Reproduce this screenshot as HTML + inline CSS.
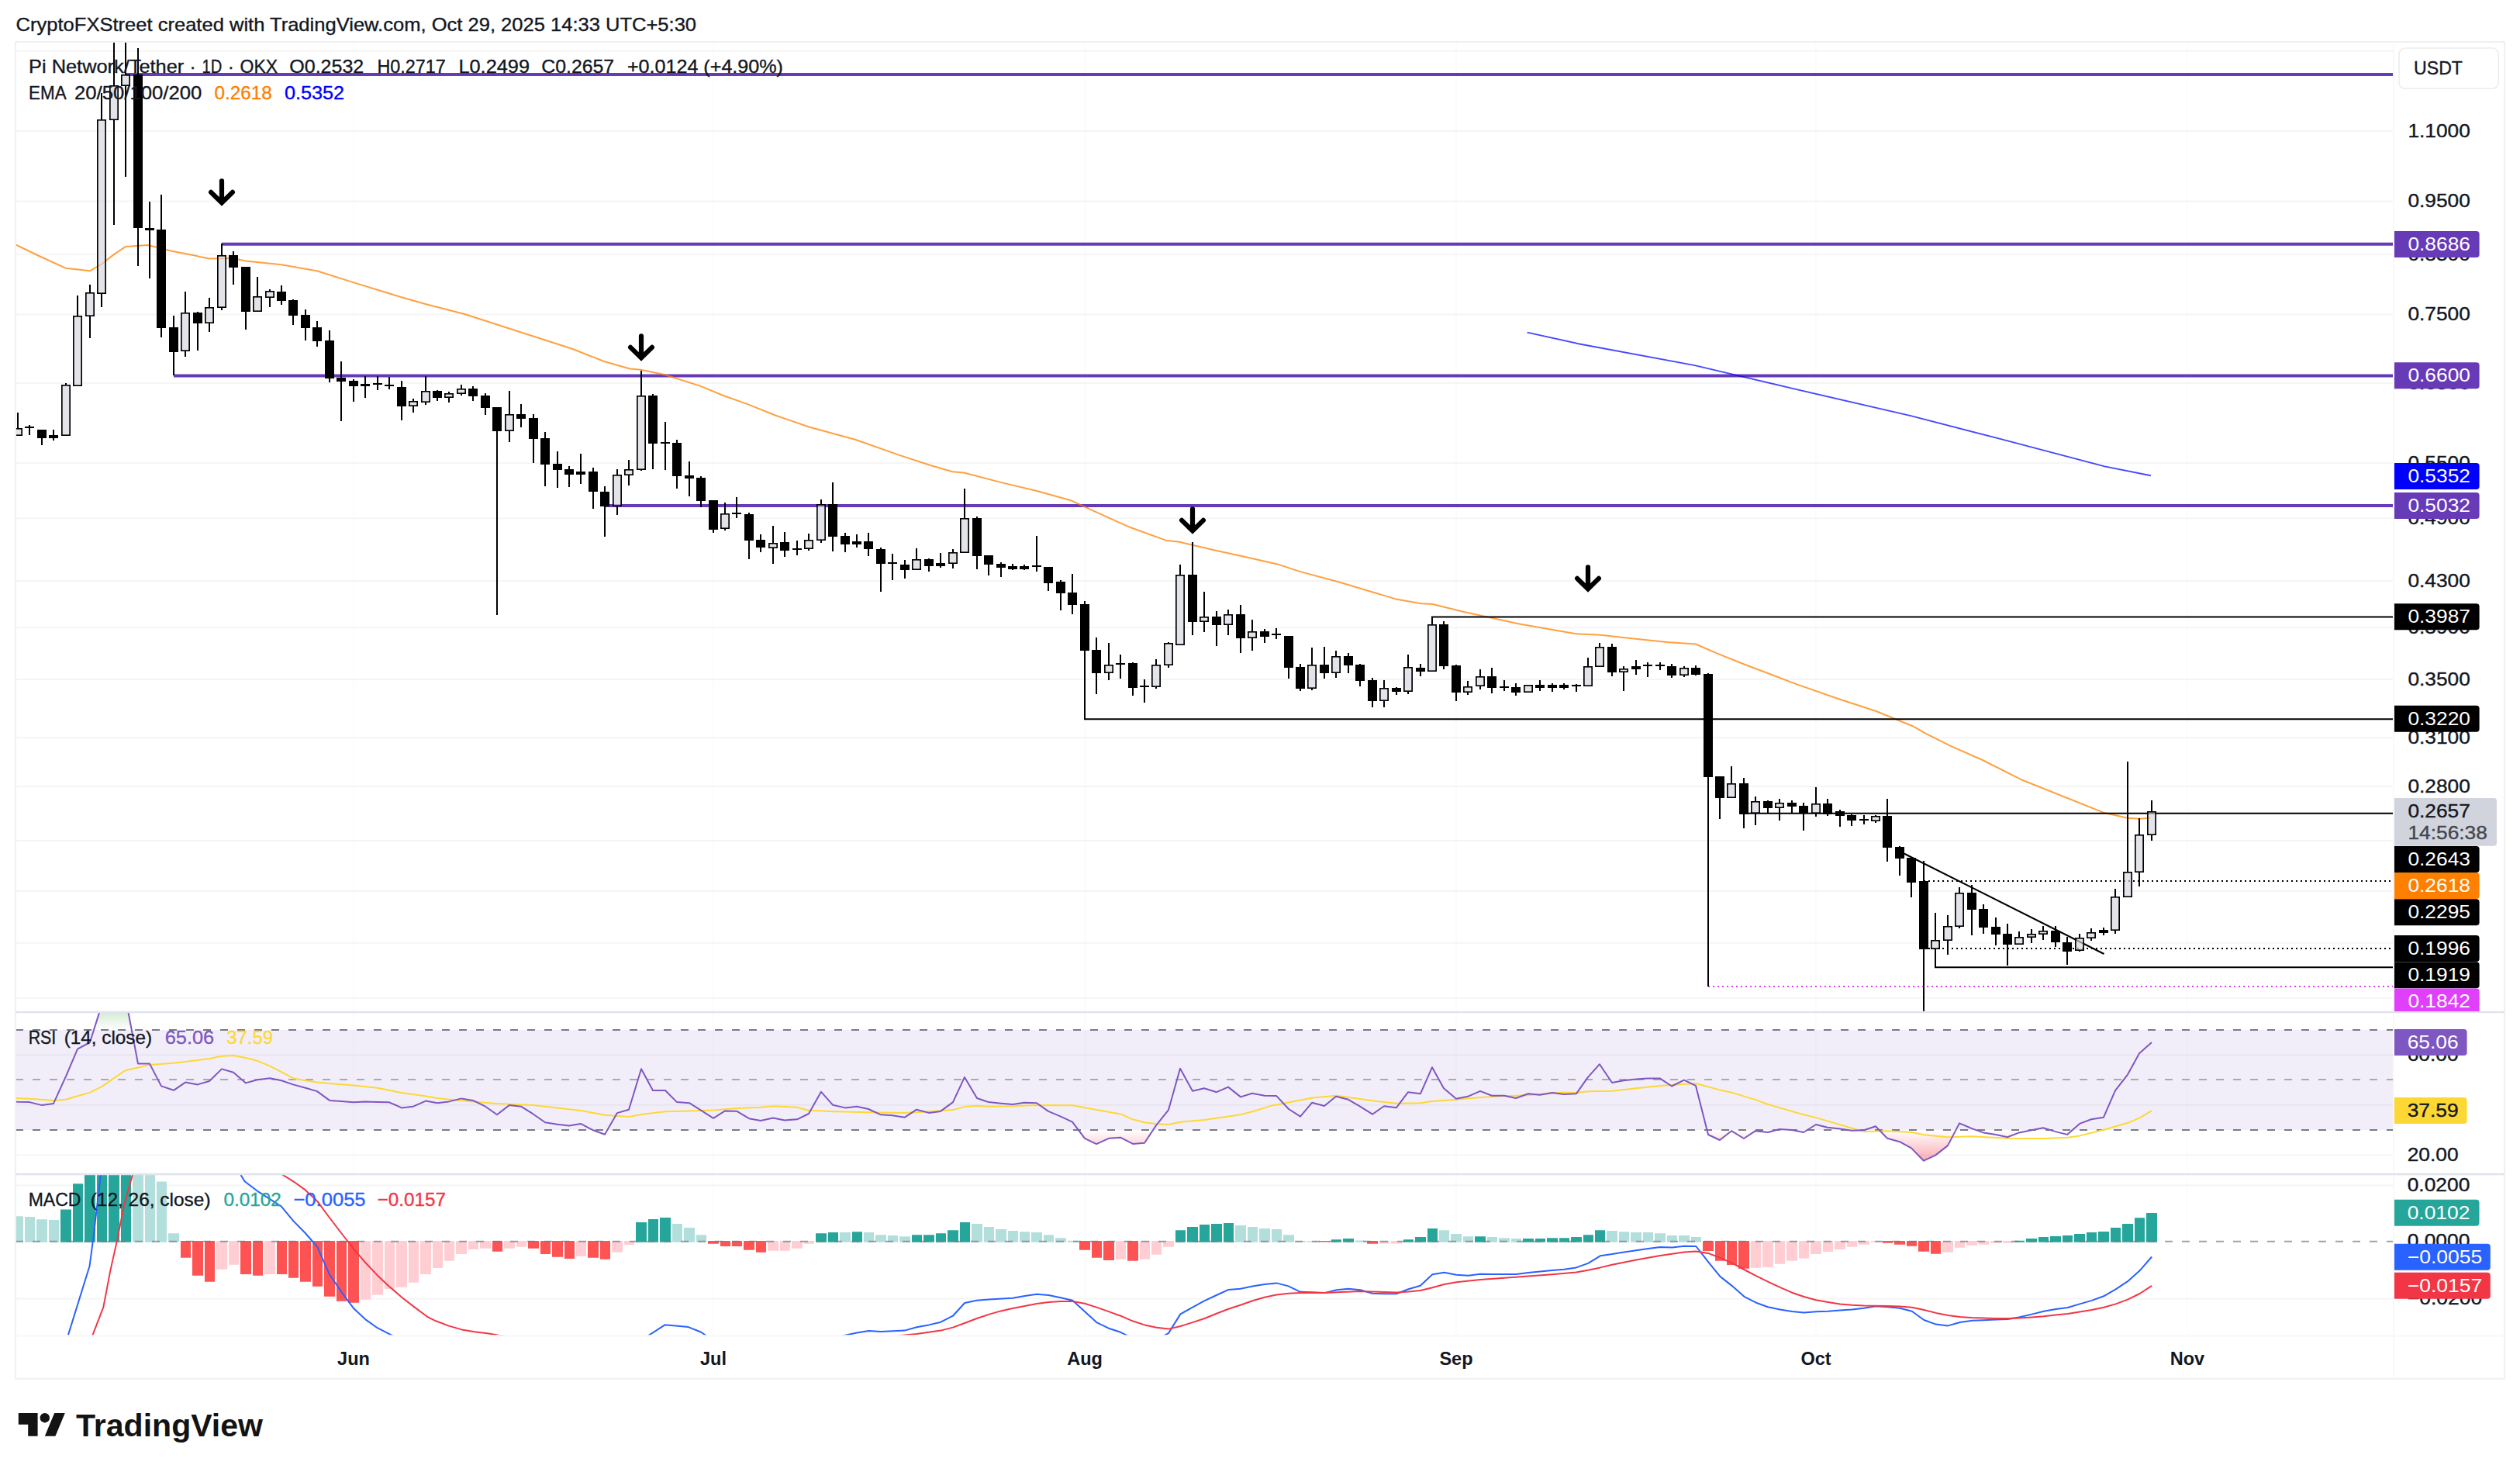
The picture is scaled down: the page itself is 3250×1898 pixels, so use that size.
<!DOCTYPE html><html><head><meta charset="utf-8"><title>Pi Network chart</title><style>html,body{margin:0;padding:0;background:#fff;overflow:hidden}svg{display:block}</style></head><body><svg width="3250" height="1898" viewBox="0 0 3250 1898" font-family="'Liberation Sans', Arial, sans-serif">
<defs>
<clipPath id="cm"><rect x="20" y="54" width="3067" height="1250"/></clipPath>
<clipPath id="cr"><rect x="20" y="1306" width="3067" height="207"/></clipPath>
<clipPath id="cd"><rect x="20" y="1515" width="3067" height="206.5"/></clipPath>
<clipPath id="ca1"><rect x="3087" y="54" width="143" height="1250"/></clipPath>
<clipPath id="ca2"><rect x="3087" y="1306" width="143" height="207"/></clipPath>
<clipPath id="ca3"><rect x="3087" y="1515" width="143" height="206.5"/></clipPath>
<linearGradient id="gg" x1="0" y1="0" x2="0" y2="1"><stop offset="0" stop-color="#4caf50" stop-opacity="0.35"/><stop offset="1" stop-color="#4caf50" stop-opacity="0"/></linearGradient>
<linearGradient id="gr" gradientUnits="userSpaceOnUse" x1="0" y1="1457" x2="0" y2="1500"><stop offset="0" stop-color="#f23645" stop-opacity="0"/><stop offset="1" stop-color="#f23645" stop-opacity="0.45"/></linearGradient>
<linearGradient id="gg2" gradientUnits="userSpaceOnUse" x1="0" y1="1328" x2="0" y2="1290"><stop offset="0" stop-color="#4caf50" stop-opacity="0"/><stop offset="1" stop-color="#4caf50" stop-opacity="0.4"/></linearGradient>
</defs>
<rect width="3250" height="1898" fill="#fff"/>
<path d="M456.0 54V1722.5M920.0 54V1722.5M1399.0 54V1722.5M1878.0 54V1722.5M2342.0 54V1722.5M2821.0 54V1722.5" stroke="#000" stroke-opacity="0.013" stroke-width="2" fill="none"/>
<path d="M20 65.8H3087M20 169.0H3087M20 259.5H3087M20 328.2H3087M20 405.5H3087M20 493.9H3087M20 597.0H3087M20 668.3H3087M20 749.0H3087M20 809.3H3087M20 876.1H3087M20 951.1H3087M20 1013.9H3087M20 1083.9H3087M20 1148.9H3087M20 1215.8H3087M20 1286.7H3087M20 1360.2H3087M20 1424.8H3087M20 1489.2H3087M20 1528.5H3087M20 1674.6H3087" stroke="#000" stroke-opacity="0.04" stroke-width="2" fill="none"/>
<rect x="20" y="1328" width="3067" height="129" fill="#7e57c2" fill-opacity="0.1"/>
<g clip-path="url(#cm)">
<path d="M162.0 96.0H3087" stroke="#673ab7" stroke-width="4"/>
<path d="M286.0 314.8H3087" stroke="#673ab7" stroke-width="4"/>
<path d="M224.0 484.4H3087" stroke="#673ab7" stroke-width="4"/>
<path d="M780.0 651.9H3087" stroke="#673ab7" stroke-width="4"/>
<path d="M20.2 315.5L52.4 331.0L84.5 345.7L116.0 349.3L131.0 340.5L146.9 328.1L162.1 317.9L190.5 316.0L208.1 320.2L221.4 323.8L238.8 326.9L270.0 333.6L286.0 333.3L301.2 333.3L316.9 336.4L362.9 341.2L409.5 349.5L452.4 363.1L517.9 383.3L547.6 391.7L600.0 405.2L738.6 450.0L779.0 466.0L812.4 475.5L826.7 476.7L857.6 483.3L902.9 497.6L931.4 509.5L964.8 521.4L1000.5 535.7L1043.3 550.5L1102.9 566.7L1160.0 586.9L1200.0 600.0L1228.6 608.3L1242.9 609.5L1290.5 621.9L1338.1 633.3L1381.0 645.2L1409.5 658.3L1457.1 679.8L1504.8 697.1L1521.4 698.8L1566.7 709.5L1600.0 716.7L1647.6 727.4L1676.2 736.9L1728.6 751.0L1800.0 772.4L1833.3 778.3L1847.6 779.0L1888.1 789.0L1959.5 804.5L2031.0 817.1L2064.3 818.8L2102.4 822.9L2150.0 827.9L2186.9 830.5L2214.3 842.4L2250.0 856.7L2316.7 882.1L2371.4 901.2L2419.0 916.7L2466.7 936.2L2483.3 945.7L2516.7 962.4L2554.8 979.0L2606.7 1005.2L2666.2 1029.0L2713.8 1048.1L2743.8 1054.8L2758.8 1055.7L2773.3 1054.8" stroke="#ff8000" stroke-opacity="0.75" stroke-width="2" fill="none" stroke-linejoin="round"/>
<path d="M1969.6 428.6L2035.7 443.2L2185.7 471.1L2242.9 484.6L2310.7 500.7L2464.3 536.1L2578.6 565.7L2714.3 601.4L2773.9 613.2" stroke="#0000ff" stroke-opacity="0.72" stroke-width="1.9" fill="none" stroke-linejoin="round"/>
<path d="M1847.0 805V795.4H3087M1399.0 900V927.2H3087M2254.0 1048.8H3087M2496.0 1240V1247.3H3087" stroke="#000" stroke-width="2" fill="none"/>
<path d="M2450.0 1097.7L2713.5 1230" stroke="#000" stroke-width="2.2" fill="none"/>
<path d="M2481.0 1136H3087M2481.0 1222.9H3087" stroke="#000" stroke-width="2" stroke-dasharray="2 4" fill="none"/>
<path d="M2203.0 1272H3087" stroke="#e040fb" stroke-width="2" stroke-dasharray="2 4" fill="none"/>
<path d="M23.0 532.0V552.5M23.0 561.5V562.0M38.0 548.0V561.0M54.0 554.0V574.0M69.0 554.0V568.0M85.0 494.0V496.5M85.0 561.5V562.0M100.0 381.0V407.5M100.0 497.5V498.0M116.0 367.0V377.5M116.0 407.5V436.0M131.0 120.0V154.5M131.0 378.5V396.0M147.0 40.0V110.5M147.0 154.5V290.0M162.0 40.0V96.5M162.0 110.5V228.0M178.0 62.0V343.0M193.0 260.0V359.0M208.0 251.0V435.0M224.0 407.0V484.0M239.0 376.0V403.5M239.0 452.5V460.0M255.0 402.0V452.0M270.0 384.0V396.5M270.0 416.5V428.0M286.0 314.0V329.5M286.0 396.5V400.0M301.0 324.0V367.0M317.0 344.0V425.0M332.0 357.0V382.5M332.0 401.5V402.0M348.0 373.0V375.5M348.0 383.5V396.0M363.0 368.0V393.0M378.0 386.0V419.0M394.0 399.0V439.0M409.0 414.0V447.0M425.0 426.0V493.0M440.0 466.0V543.0M456.0 489.0V518.0M471.0 485.0V513.0M487.0 485.0V503.0M502.0 486.0V502.0M518.0 491.0V542.0M533.0 514.0V517.5M533.0 523.5V532.0M549.0 485.0V504.5M549.0 518.5V522.0M564.0 503.0V517.0M579.0 505.0V507.5M579.0 512.5V519.0M595.0 496.0V501.5M595.0 507.5V510.0M610.0 498.0V517.0M626.0 507.0V535.0M641.0 525.0V793.0M657.0 504.0V534.5M657.0 555.5V570.0M672.0 521.0V551.0M688.0 534.0V597.0M703.0 557.0V627.0M719.0 582.0V629.0M734.0 601.0V628.0M749.0 585.0V624.0M765.0 603.0V656.0M780.0 627.0V692.0M796.0 605.0V612.5M796.0 652.5V664.0M811.0 593.0V605.5M811.0 612.5V626.0M827.0 478.0V510.5M827.0 605.5V607.0M842.0 508.0V605.0M858.0 544.0V606.0M873.0 567.0V630.0M889.0 595.0V640.0M904.0 614.0V654.0M920.0 645.0V687.0M935.0 648.0V662.5M935.0 681.5V684.0M950.0 641.0V668.0M966.0 661.0V721.0M981.0 689.0V712.0M997.0 678.0V700.5M997.0 706.5V727.0M1012.0 686.0V718.0M1028.0 697.0V716.0M1043.0 688.0V696.5M1043.0 707.5V710.0M1059.0 644.0V650.5M1059.0 696.5V700.0M1074.0 622.0V711.0M1090.0 687.0V712.0M1105.0 689.0V706.0M1120.0 687.0V717.0M1136.0 706.0V763.0M1151.0 714.0V748.0M1167.0 722.0V746.0M1182.0 707.0V721.5M1182.0 734.5V735.0M1198.0 720.0V737.0M1213.0 713.0V732.0M1229.0 708.0V712.5M1229.0 726.5V733.0M1244.0 630.0V668.5M1244.0 712.5V713.0M1260.0 666.0V734.0M1275.0 716.0V742.0M1291.0 725.0V744.0M1306.0 727.0V735.0M1321.0 728.0V735.0M1337.0 691.0V737.0M1352.0 731.0V762.0M1368.0 748.0V787.0M1383.0 740.0V792.0M1399.0 775.0V928.0M1414.0 822.0V895.0M1430.0 829.0V857.5M1430.0 867.5V877.0M1445.0 844.0V875.0M1461.0 854.0V897.0M1476.0 876.0V906.0M1491.0 850.0V857.5M1491.0 885.5V888.0M1507.0 828.0V829.5M1507.0 857.5V861.0M1522.0 728.0V741.5M1522.0 831.5V832.0M1538.0 699.0V819.0M1553.0 763.0V795.5M1553.0 801.5V815.0M1569.0 788.0V833.0M1584.0 786.0V792.5M1584.0 805.5V819.0M1600.0 780.0V842.0M1615.0 799.0V814.5M1615.0 822.5V839.0M1631.0 811.0V829.0M1646.0 810.0V824.0M1662.0 820.0V875.0M1677.0 856.0V891.0M1692.0 835.0V857.5M1692.0 887.5V890.0M1708.0 834.0V875.0M1723.0 839.0V846.5M1723.0 867.5V874.0M1739.0 842.0V868.0M1754.0 856.0V885.0M1770.0 874.0V912.0M1785.0 877.0V887.5M1785.0 903.5V912.0M1801.0 886.0V896.0M1816.0 844.0V860.5M1816.0 891.5V895.0M1832.0 856.0V872.0M1847.0 795.0V805.5M1847.0 865.5V866.0M1862.0 801.0V863.0M1878.0 857.0V904.0M1893.0 878.0V885.5M1893.0 892.5V896.0M1909.0 863.0V872.5M1909.0 884.5V889.0M1924.0 861.0V894.0M1940.0 877.0V891.0M1955.0 881.0V897.0M1971.0 883.0V883.5M1971.0 892.5V893.0M1986.0 877.0V891.0M2002.0 881.0V892.0M2017.0 881.0V889.0M2033.0 882.0V892.0M2048.0 848.0V859.5M2048.0 884.5V885.0M2063.0 829.0V834.5M2063.0 859.5V860.0M2079.0 830.0V872.0M2094.0 859.0V862.5M2094.0 866.5V891.0M2110.0 851.0V870.0M2125.0 854.0V873.0M2141.0 854.0V864.0M2156.0 856.0V874.0M2172.0 859.0V861.5M2172.0 870.5V873.0M2187.0 858.0V871.0M2203.0 868.0V1272.0M2218.0 1001.0V1056.0M2233.0 988.0V1010.5M2233.0 1028.5V1029.0M2249.0 1003.0V1068.0M2264.0 1027.0V1033.5M2264.0 1048.5V1064.0M2280.0 1032.0V1049.0M2295.0 1030.0V1035.5M2295.0 1041.5V1058.0M2311.0 1032.0V1049.0M2326.0 1035.0V1071.0M2342.0 1015.0V1036.5M2342.0 1048.5V1053.0M2357.0 1030.0V1052.0M2373.0 1044.0V1066.0M2388.0 1050.0V1065.0M2404.0 1051.0V1063.0M2419.0 1051.0V1052.5M2419.0 1058.5V1061.0M2434.0 1030.0V1111.0M2450.0 1091.0V1129.0M2465.0 1106.0V1157.0M2481.0 1110.0V1304.0M2496.0 1177.0V1212.5M2496.0 1223.5V1247.0M2512.0 1180.0V1194.5M2512.0 1212.5V1231.0M2527.0 1144.0V1151.5M2527.0 1194.5V1197.0M2543.0 1141.0V1206.0M2558.0 1166.0V1204.0M2574.0 1183.0V1219.0M2589.0 1191.0V1245.0M2604.0 1201.0V1208.5M2604.0 1217.5V1218.0M2620.0 1198.0V1204.5M2620.0 1208.5V1216.0M2635.0 1194.0V1200.5M2635.0 1204.5V1212.0M2651.0 1194.0V1221.0M2666.0 1208.0V1244.0M2682.0 1204.0V1209.5M2682.0 1225.5V1227.0M2697.0 1197.0V1202.5M2697.0 1209.5V1213.0M2713.0 1196.0V1206.0M2728.0 1146.0V1156.5M2728.0 1199.5V1204.0M2744.0 982.0V1124.5M2744.0 1156.5V1157.0M2759.0 1055.0V1076.5M2759.0 1124.5V1143.0M2775.0 1032.0V1046.5M2775.0 1076.5V1084.0" stroke="#000" stroke-width="2" fill="none"/>
<path d="M32.0 550.0h12.0v2.0h-12.0zM48.0 554.0h12.0v11.0h-12.0zM63.0 561.0h12.0v4.0h-12.0zM172.0 96.0h12.0v198.0h-12.0zM187.0 294.0h12.0v3.0h-12.0zM202.0 296.0h12.0v127.0h-12.0zM218.0 422.0h12.0v32.0h-12.0zM249.0 403.0h12.0v14.0h-12.0zM295.0 329.0h12.0v16.0h-12.0zM311.0 344.0h12.0v58.0h-12.0zM357.0 376.0h12.0v12.0h-12.0zM372.0 387.0h12.0v20.0h-12.0zM388.0 406.0h12.0v17.0h-12.0zM403.0 422.0h12.0v18.0h-12.0zM419.0 439.0h12.0v49.0h-12.0zM434.0 487.0h12.0v5.0h-12.0zM450.0 491.0h12.0v7.0h-12.0zM465.0 495.0h12.0v3.0h-12.0zM481.0 494.0h12.0v2.0h-12.0zM496.0 496.0h12.0v2.0h-12.0zM512.0 499.0h12.0v25.0h-12.0zM558.0 504.0h12.0v9.0h-12.0zM604.0 501.0h12.0v10.0h-12.0zM620.0 510.0h12.0v16.0h-12.0zM635.0 525.0h12.0v31.0h-12.0zM666.0 534.0h12.0v6.0h-12.0zM682.0 539.0h12.0v27.0h-12.0zM697.0 565.0h12.0v34.0h-12.0zM713.0 598.0h12.0v8.0h-12.0zM728.0 605.0h12.0v7.0h-12.0zM743.0 608.0h12.0v4.0h-12.0zM759.0 608.0h12.0v26.0h-12.0zM774.0 634.0h12.0v19.0h-12.0zM836.0 510.0h12.0v62.0h-12.0zM852.0 570.0h12.0v2.0h-12.0zM867.0 571.0h12.0v43.0h-12.0zM883.0 613.0h12.0v4.0h-12.0zM898.0 616.0h12.0v30.0h-12.0zM914.0 645.0h12.0v38.0h-12.0zM944.0 661.0h12.0v2.0h-12.0zM960.0 663.0h12.0v34.0h-12.0zM975.0 696.0h12.0v10.0h-12.0zM1006.0 699.0h12.0v11.0h-12.0zM1022.0 707.0h12.0v2.0h-12.0zM1068.0 650.0h12.0v42.0h-12.0zM1084.0 691.0h12.0v11.0h-12.0zM1099.0 698.0h12.0v4.0h-12.0zM1114.0 698.0h12.0v10.0h-12.0zM1130.0 708.0h12.0v19.0h-12.0zM1145.0 725.0h12.0v2.0h-12.0zM1161.0 728.0h12.0v7.0h-12.0zM1192.0 721.0h12.0v9.0h-12.0zM1207.0 726.0h12.0v4.0h-12.0zM1254.0 668.0h12.0v49.0h-12.0zM1269.0 716.0h12.0v12.0h-12.0zM1285.0 727.0h12.0v5.0h-12.0zM1300.0 730.0h12.0v4.0h-12.0zM1315.0 730.0h12.0v4.0h-12.0zM1331.0 729.0h12.0v2.0h-12.0zM1346.0 731.0h12.0v21.0h-12.0zM1362.0 750.0h12.0v15.0h-12.0zM1377.0 764.0h12.0v16.0h-12.0zM1393.0 779.0h12.0v60.0h-12.0zM1408.0 838.0h12.0v30.0h-12.0zM1439.0 855.0h12.0v2.0h-12.0zM1455.0 855.0h12.0v32.0h-12.0zM1470.0 884.0h12.0v2.0h-12.0zM1532.0 741.0h12.0v61.0h-12.0zM1563.0 795.0h12.0v11.0h-12.0zM1594.0 792.0h12.0v31.0h-12.0zM1625.0 814.0h12.0v7.0h-12.0zM1640.0 817.0h12.0v2.0h-12.0zM1656.0 820.0h12.0v41.0h-12.0zM1671.0 860.0h12.0v28.0h-12.0zM1702.0 857.0h12.0v11.0h-12.0zM1733.0 846.0h12.0v12.0h-12.0zM1748.0 857.0h12.0v21.0h-12.0zM1764.0 877.0h12.0v27.0h-12.0zM1795.0 887.0h12.0v5.0h-12.0zM1826.0 861.0h12.0v5.0h-12.0zM1856.0 805.0h12.0v54.0h-12.0zM1872.0 858.0h12.0v35.0h-12.0zM1918.0 872.0h12.0v15.0h-12.0zM1934.0 885.0h12.0v2.0h-12.0zM1949.0 886.0h12.0v7.0h-12.0zM1980.0 883.0h12.0v4.0h-12.0zM1996.0 883.0h12.0v4.0h-12.0zM2011.0 883.0h12.0v4.0h-12.0zM2027.0 883.0h12.0v2.0h-12.0zM2073.0 834.0h12.0v33.0h-12.0zM2104.0 859.0h12.0v4.0h-12.0zM2119.0 857.0h12.0v2.0h-12.0zM2135.0 857.0h12.0v2.0h-12.0zM2150.0 859.0h12.0v12.0h-12.0zM2181.0 861.0h12.0v9.0h-12.0zM2197.0 869.0h12.0v133.0h-12.0zM2212.0 1001.0h12.0v28.0h-12.0zM2243.0 1010.0h12.0v40.0h-12.0zM2274.0 1033.0h12.0v9.0h-12.0zM2305.0 1035.0h12.0v5.0h-12.0zM2320.0 1039.0h12.0v10.0h-12.0zM2351.0 1036.0h12.0v14.0h-12.0zM2367.0 1046.0h12.0v6.0h-12.0zM2382.0 1051.0h12.0v7.0h-12.0zM2398.0 1056.0h12.0v2.0h-12.0zM2428.0 1052.0h12.0v41.0h-12.0zM2444.0 1092.0h12.0v15.0h-12.0zM2459.0 1106.0h12.0v32.0h-12.0zM2475.0 1136.0h12.0v88.0h-12.0zM2537.0 1151.0h12.0v22.0h-12.0zM2552.0 1172.0h12.0v24.0h-12.0zM2568.0 1195.0h12.0v10.0h-12.0zM2583.0 1204.0h12.0v14.0h-12.0zM2645.0 1200.0h12.0v15.0h-12.0zM2660.0 1215.0h12.0v12.0h-12.0zM2707.0 1199.0h12.0v4.0h-12.0z" fill="#000"/>
<path d="M17.0 552.0h12.0v10.0h-12.0zM18.8 553.8v6.4h8.4v-6.4zM79.0 496.0h12.0v66.0h-12.0zM80.8 497.8v62.4h8.4v-62.4zM94.0 407.0h12.0v91.0h-12.0zM95.8 408.8v87.4h8.4v-87.4zM110.0 377.0h12.0v31.0h-12.0zM111.8 378.8v27.4h8.4v-27.4zM125.0 154.0h12.0v225.0h-12.0zM126.8 155.8v221.4h8.4v-221.4zM141.0 110.0h12.0v45.0h-12.0zM142.8 111.8v41.4h8.4v-41.4zM156.0 96.0h12.0v15.0h-12.0zM157.8 97.8v11.4h8.4v-11.4zM233.0 403.0h12.0v50.0h-12.0zM234.8 404.8v46.4h8.4v-46.4zM264.0 396.0h12.0v21.0h-12.0zM265.8 397.8v17.4h8.4v-17.4zM280.0 329.0h12.0v68.0h-12.0zM281.8 330.8v64.4h8.4v-64.4zM326.0 382.0h12.0v20.0h-12.0zM327.8 383.8v16.4h8.4v-16.4zM342.0 375.0h12.0v9.0h-12.0zM343.8 376.8v5.4h8.4v-5.4zM527.0 517.0h12.0v7.0h-12.0zM528.8 518.8v3.4h8.4v-3.4zM543.0 504.0h12.0v15.0h-12.0zM544.8 505.8v11.4h8.4v-11.4zM573.0 507.0h12.0v6.0h-12.0zM574.8 508.8v2.4h8.4v-2.4zM589.0 501.0h12.0v7.0h-12.0zM590.8 502.8v3.4h8.4v-3.4zM651.0 534.0h12.0v22.0h-12.0zM652.8 535.8v18.4h8.4v-18.4zM790.0 612.0h12.0v41.0h-12.0zM791.8 613.8v37.4h8.4v-37.4zM805.0 605.0h12.0v8.0h-12.0zM806.8 606.8v4.4h8.4v-4.4zM821.0 510.0h12.0v96.0h-12.0zM822.8 511.8v92.4h8.4v-92.4zM929.0 662.0h12.0v20.0h-12.0zM930.8 663.8v16.4h8.4v-16.4zM991.0 700.0h12.0v7.0h-12.0zM992.8 701.8v3.4h8.4v-3.4zM1037.0 696.0h12.0v12.0h-12.0zM1038.8 697.8v8.4h8.4v-8.4zM1053.0 650.0h12.0v47.0h-12.0zM1054.8 651.8v43.4h8.4v-43.4zM1176.0 721.0h12.0v14.0h-12.0zM1177.8 722.8v10.4h8.4v-10.4zM1223.0 712.0h12.0v15.0h-12.0zM1224.8 713.8v11.4h8.4v-11.4zM1238.0 668.0h12.0v45.0h-12.0zM1239.8 669.8v41.4h8.4v-41.4zM1424.0 857.0h12.0v11.0h-12.0zM1425.8 858.8v7.4h8.4v-7.4zM1485.0 857.0h12.0v29.0h-12.0zM1486.8 858.8v25.4h8.4v-25.4zM1501.0 829.0h12.0v29.0h-12.0zM1502.8 830.8v25.4h8.4v-25.4zM1516.0 741.0h12.0v91.0h-12.0zM1517.8 742.8v87.4h8.4v-87.4zM1547.0 795.0h12.0v7.0h-12.0zM1548.8 796.8v3.4h8.4v-3.4zM1578.0 792.0h12.0v14.0h-12.0zM1579.8 793.8v10.4h8.4v-10.4zM1609.0 814.0h12.0v9.0h-12.0zM1610.8 815.8v5.4h8.4v-5.4zM1686.0 857.0h12.0v31.0h-12.0zM1687.8 858.8v27.4h8.4v-27.4zM1717.0 846.0h12.0v22.0h-12.0zM1718.8 847.8v18.4h8.4v-18.4zM1779.0 887.0h12.0v17.0h-12.0zM1780.8 888.8v13.4h8.4v-13.4zM1810.0 860.0h12.0v32.0h-12.0zM1811.8 861.8v28.4h8.4v-28.4zM1841.0 805.0h12.0v61.0h-12.0zM1842.8 806.8v57.4h8.4v-57.4zM1887.0 885.0h12.0v8.0h-12.0zM1888.8 886.8v4.4h8.4v-4.4zM1903.0 872.0h12.0v13.0h-12.0zM1904.8 873.8v9.4h8.4v-9.4zM1965.0 883.0h12.0v10.0h-12.0zM1966.8 884.8v6.4h8.4v-6.4zM2042.0 859.0h12.0v26.0h-12.0zM2043.8 860.8v22.4h8.4v-22.4zM2057.0 834.0h12.0v26.0h-12.0zM2058.8 835.8v22.4h8.4v-22.4zM2088.0 862.0h12.0v5.0h-12.0zM2089.8 863.8v1.4h8.4v-1.4zM2166.0 861.0h12.0v10.0h-12.0zM2167.8 862.8v6.4h8.4v-6.4zM2227.0 1010.0h12.0v19.0h-12.0zM2228.8 1011.8v15.4h8.4v-15.4zM2258.0 1033.0h12.0v16.0h-12.0zM2259.8 1034.8v12.4h8.4v-12.4zM2289.0 1035.0h12.0v7.0h-12.0zM2290.8 1036.8v3.4h8.4v-3.4zM2336.0 1036.0h12.0v13.0h-12.0zM2337.8 1037.8v9.4h8.4v-9.4zM2413.0 1052.0h12.0v7.0h-12.0zM2414.8 1053.8v3.4h8.4v-3.4zM2490.0 1212.0h12.0v12.0h-12.0zM2491.8 1213.8v8.4h8.4v-8.4zM2506.0 1194.0h12.0v19.0h-12.0zM2507.8 1195.8v15.4h8.4v-15.4zM2521.0 1151.0h12.0v44.0h-12.0zM2522.8 1152.8v40.4h8.4v-40.4zM2598.0 1208.0h12.0v10.0h-12.0zM2599.8 1209.8v6.4h8.4v-6.4zM2614.0 1204.0h12.0v5.0h-12.0zM2615.8 1205.8v1.4h8.4v-1.4zM2629.0 1200.0h12.0v5.0h-12.0zM2630.8 1201.8v1.4h8.4v-1.4zM2676.0 1209.0h12.0v17.0h-12.0zM2677.8 1210.8v13.4h8.4v-13.4zM2691.0 1202.0h12.0v8.0h-12.0zM2692.8 1203.8v4.4h8.4v-4.4zM2722.0 1156.0h12.0v44.0h-12.0zM2723.8 1157.8v40.4h8.4v-40.4zM2738.0 1124.0h12.0v33.0h-12.0zM2739.8 1125.8v29.4h8.4v-29.4zM2753.0 1076.0h12.0v49.0h-12.0zM2754.8 1077.8v45.4h8.4v-45.4zM2769.0 1046.0h12.0v31.0h-12.0zM2770.8 1047.8v27.4h8.4v-27.4z" fill="#000" fill-rule="evenodd"/>
<path d="M18.8 553.8h8.4v6.4h-8.4zM80.8 497.8h8.4v62.4h-8.4zM95.8 408.8h8.4v87.4h-8.4zM111.8 378.8h8.4v27.4h-8.4zM126.8 155.8h8.4v221.4h-8.4zM142.8 111.8h8.4v41.4h-8.4zM157.8 97.8h8.4v11.4h-8.4zM234.8 404.8h8.4v46.4h-8.4zM265.8 397.8h8.4v17.4h-8.4zM281.8 330.8h8.4v64.4h-8.4zM327.8 383.8h8.4v16.4h-8.4zM343.8 376.8h8.4v5.4h-8.4zM528.8 518.8h8.4v3.4h-8.4zM544.8 505.8h8.4v11.4h-8.4zM574.8 508.8h8.4v2.4h-8.4zM590.8 502.8h8.4v3.4h-8.4zM652.8 535.8h8.4v18.4h-8.4zM791.8 613.8h8.4v37.4h-8.4zM806.8 606.8h8.4v4.4h-8.4zM822.8 511.8h8.4v92.4h-8.4zM930.8 663.8h8.4v16.4h-8.4zM992.8 701.8h8.4v3.4h-8.4zM1038.8 697.8h8.4v8.4h-8.4zM1054.8 651.8h8.4v43.4h-8.4zM1177.8 722.8h8.4v10.4h-8.4zM1224.8 713.8h8.4v11.4h-8.4zM1239.8 669.8h8.4v41.4h-8.4zM1425.8 858.8h8.4v7.4h-8.4zM1486.8 858.8h8.4v25.4h-8.4zM1502.8 830.8h8.4v25.4h-8.4zM1517.8 742.8h8.4v87.4h-8.4zM1548.8 796.8h8.4v3.4h-8.4zM1579.8 793.8h8.4v10.4h-8.4zM1610.8 815.8h8.4v5.4h-8.4zM1687.8 858.8h8.4v27.4h-8.4zM1718.8 847.8h8.4v18.4h-8.4zM1780.8 888.8h8.4v13.4h-8.4zM1811.8 861.8h8.4v28.4h-8.4zM1842.8 806.8h8.4v57.4h-8.4zM1888.8 886.8h8.4v4.4h-8.4zM1904.8 873.8h8.4v9.4h-8.4zM1966.8 884.8h8.4v6.4h-8.4zM2043.8 860.8h8.4v22.4h-8.4zM2058.8 835.8h8.4v22.4h-8.4zM2089.8 863.8h8.4v1.4h-8.4zM2167.8 862.8h8.4v6.4h-8.4zM2228.8 1011.8h8.4v15.4h-8.4zM2259.8 1034.8h8.4v12.4h-8.4zM2290.8 1036.8h8.4v3.4h-8.4zM2337.8 1037.8h8.4v9.4h-8.4zM2414.8 1053.8h8.4v3.4h-8.4zM2491.8 1213.8h8.4v8.4h-8.4zM2507.8 1195.8h8.4v15.4h-8.4zM2522.8 1152.8h8.4v40.4h-8.4zM2599.8 1209.8h8.4v6.4h-8.4zM2615.8 1205.8h8.4v1.4h-8.4zM2630.8 1201.8h8.4v1.4h-8.4zM2677.8 1210.8h8.4v13.4h-8.4zM2692.8 1203.8h8.4v4.4h-8.4zM2723.8 1157.8h8.4v40.4h-8.4zM2739.8 1125.8h8.4v29.4h-8.4zM2754.8 1077.8h8.4v45.4h-8.4zM2770.8 1047.8h8.4v27.4h-8.4z" fill="#d4d6de" fill-opacity="0.66"/>
<path d="M286 233.3V259.8M272.1 247.9L286 261.4L299.9 247.9" stroke="#000" stroke-width="6.2" fill="none" stroke-linecap="round" stroke-linejoin="miter"/>
<path d="M827 433.3V459.8M813.1 447.9L827 461.4L840.9 447.9" stroke="#000" stroke-width="6.2" fill="none" stroke-linecap="round" stroke-linejoin="miter"/>
<path d="M1538 656.3V682.8M1524.1 670.9L1538 684.4L1551.9 670.9" stroke="#000" stroke-width="6.2" fill="none" stroke-linecap="round" stroke-linejoin="miter"/>
<path d="M2048 731.3V757.8M2034.1 745.9L2048 759.4L2061.9 745.9" stroke="#000" stroke-width="6.2" fill="none" stroke-linecap="round" stroke-linejoin="miter"/>
</g>
<g clip-path="url(#cr)">
<path d="M20 1328H3087M20 1457H3087" stroke="#787b86" stroke-width="2.2" stroke-dasharray="10 12" fill="none"/>
<path d="M20 1392H3087" stroke="#787b86" stroke-opacity="0.6" stroke-width="2.2" stroke-dasharray="10 12" fill="none"/>
<path d="M121.0 1328.0L131.0 1296.2L147.0 1280.0L162.0 1286.7L169.8 1328.0z" fill="url(#gg2)"/>
<path d="M764.4 1457.0L765.0 1457.3L780.0 1462.7L783.3 1457.0z" fill="url(#gr)"/>
<path d="M1390.8 1457.0L1399.0 1467.8L1414.0 1475.1L1430.0 1467.8L1445.0 1466.7L1461.0 1474.9L1476.0 1473.8L1487.1 1457.0z" fill="url(#gr)"/>
<path d="M2201.5 1457.0L2203.0 1463.0L2218.0 1470.0L2233.0 1458.2L2249.0 1468.0L2264.0 1458.2L2280.0 1460.0L2291.2 1457.0z" fill="url(#gr)"/>
<path d="M2309.4 1457.0L2311.0 1457.1L2326.0 1460.0L2330.8 1457.0z" fill="url(#gr)"/>
<path d="M2382.7 1457.0L2388.0 1457.8L2404.0 1457.3L2405.0 1457.0z" fill="url(#gr)"/>
<path d="M2423.6 1457.0L2434.0 1467.8L2450.0 1472.2L2465.0 1480.4L2481.0 1496.7L2496.0 1489.6L2512.0 1477.1L2522.5 1457.0z" fill="url(#gr)"/>
<path d="M2548.3 1457.0L2558.0 1460.4L2574.0 1462.9L2589.0 1466.2L2604.0 1460.4L2620.0 1457.3L2621.6 1457.0z" fill="url(#gr)"/>
<path d="M2644.1 1457.0L2651.0 1459.1L2666.0 1462.9L2672.7 1457.0z" fill="url(#gr)"/>
<path d="M20.4 1416.0L38.2 1416.7L69.1 1418.9L84.7 1417.8L100.0 1413.3L115.6 1408.9L131.1 1401.1L146.4 1390.7L162.0 1380.0L177.3 1376.7L192.9 1372.9L223.8 1370.7L254.7 1367.1L270.2 1364.9L285.6 1361.8L301.1 1360.9L316.7 1364.0L332.0 1367.8L347.6 1374.4L362.9 1382.2L378.4 1390.4L393.8 1393.3L409.3 1395.6L424.9 1396.9L455.8 1399.6L486.7 1402.7L517.6 1408.9L548.4 1413.3L564.0 1416.0L594.7 1419.3L641.1 1422.9L687.6 1424.9L718.4 1428.4L749.3 1432.0L780.4 1437.8L811.3 1440.0L826.7 1436.9L857.8 1433.3L888.9 1432.4L919.6 1431.6L951.1 1428.9L981.3 1427.8L996.9 1426.2L1027.8 1427.8L1043.3 1432.0L1058.7 1432.2L1074.2 1433.3L1080.0 1433.3L1120.4 1434.2L1166.9 1434.9L1197.8 1433.3L1228.9 1431.1L1244.2 1427.1L1259.8 1425.8L1275.1 1426.7L1306.0 1426.2L1337.1 1425.1L1383.3 1425.3L1414.2 1431.1L1445.3 1436.4L1460.7 1443.3L1476.2 1447.3L1491.6 1449.3L1507.1 1450.0L1522.4 1446.7L1553.6 1444.0L1584.4 1439.6L1599.8 1437.3L1615.3 1433.3L1640.0 1425.6L1646.2 1424.4L1692.7 1415.6L1723.6 1412.7L1770.0 1419.3L1800.9 1422.7L1831.8 1422.2L1847.3 1420.0L1878.2 1417.8L1909.1 1414.9L1940.0 1413.3L1970.9 1412.2L2001.8 1409.3L2017.3 1408.4L2032.9 1408.9L2048.2 1407.3L2079.1 1406.7L2110.0 1403.3L2141.1 1400.0L2172.0 1397.8L2188.2 1397.2L2218.1 1405.4L2234.6 1409.1L2264.5 1418.1L2279.4 1423.8L2324.3 1436.8L2342.2 1441.1L2395.6 1456.7L2404.4 1458.9L2433.3 1458.2L2465.6 1460.0L2481.1 1463.3L2512.2 1466.2L2543.3 1465.3L2589.6 1467.8L2635.6 1468.0L2666.7 1466.7L2682.2 1464.4L2713.3 1456.7L2744.4 1447.8L2760.0 1441.1L2775.0 1432.2" stroke="#fdd835" stroke-width="2" fill="none" stroke-linejoin="round"/>
<path d="M18.0 1420.4L23.0 1420.7L38.0 1421.1L54.0 1425.1L69.0 1422.9L85.0 1387.8L100.0 1352.7L116.0 1344.0L131.0 1296.2L147.0 1280.0L162.0 1286.7L178.0 1371.6L193.0 1371.6L208.0 1400.4L224.0 1405.8L239.0 1395.6L255.0 1398.4L270.0 1394.0L286.0 1378.4L301.0 1382.7L317.0 1396.4L332.0 1392.2L348.0 1390.2L363.0 1393.3L378.0 1398.4L394.0 1402.7L409.0 1407.1L425.0 1418.9L440.0 1420.0L456.0 1421.3L471.0 1420.4L487.0 1420.9L502.0 1421.3L518.0 1428.4L533.0 1426.7L549.0 1419.6L564.0 1422.2L579.0 1420.4L595.0 1416.4L610.0 1418.9L626.0 1426.7L641.0 1437.3L657.0 1424.9L672.0 1426.7L688.0 1436.7L703.0 1447.3L719.0 1449.8L734.0 1451.6L749.0 1448.9L765.0 1457.3L780.0 1462.7L796.0 1435.1L811.0 1430.7L827.0 1378.2L842.0 1406.0L858.0 1406.0L873.0 1421.1L889.0 1422.2L904.0 1431.6L920.0 1441.8L935.0 1432.4L950.0 1432.7L966.0 1442.2L981.0 1445.1L997.0 1441.6L1012.0 1444.4L1028.0 1443.3L1043.0 1436.0L1059.0 1407.8L1074.0 1424.7L1090.0 1428.4L1105.0 1426.7L1120.0 1430.0L1136.0 1437.3L1151.0 1438.2L1167.0 1440.7L1182.0 1430.7L1198.0 1434.9L1213.0 1432.9L1229.0 1421.1L1244.0 1388.9L1260.0 1416.0L1275.0 1421.1L1291.0 1422.7L1306.0 1424.0L1321.0 1421.8L1337.0 1422.2L1352.0 1432.9L1368.0 1439.6L1383.0 1446.7L1399.0 1467.8L1414.0 1475.1L1430.0 1467.8L1445.0 1466.7L1461.0 1474.9L1476.0 1473.8L1491.0 1451.1L1507.0 1431.1L1522.0 1377.8L1538.0 1406.7L1553.0 1403.3L1569.0 1408.2L1584.0 1401.6L1600.0 1414.4L1615.0 1409.8L1631.0 1412.7L1646.0 1412.9L1662.0 1430.0L1677.0 1439.6L1692.0 1421.8L1708.0 1426.0L1723.0 1413.8L1739.0 1417.8L1754.0 1426.7L1770.0 1436.7L1785.0 1426.2L1801.0 1428.2L1816.0 1408.2L1832.0 1410.2L1847.0 1376.2L1862.0 1403.3L1878.0 1416.7L1893.0 1413.8L1909.0 1406.9L1924.0 1412.7L1940.0 1412.7L1955.0 1416.0L1971.0 1410.2L1986.0 1411.8L2002.0 1409.1L2017.0 1411.1L2033.0 1410.2L2048.0 1388.9L2063.0 1372.2L2079.0 1396.0L2094.0 1393.3L2110.0 1391.5L2125.0 1390.4L2141.0 1390.6L2156.0 1400.5L2172.0 1392.7L2187.0 1399.9L2203.0 1463.0L2218.0 1470.0L2233.0 1458.2L2249.0 1468.0L2264.0 1458.2L2280.0 1460.0L2295.0 1456.0L2311.0 1457.1L2326.0 1460.0L2342.0 1450.0L2357.0 1453.8L2373.0 1455.6L2388.0 1457.8L2404.0 1457.3L2419.0 1452.2L2434.0 1467.8L2450.0 1472.2L2465.0 1480.4L2481.0 1496.7L2496.0 1489.6L2512.0 1477.1L2527.0 1448.4L2543.0 1455.1L2558.0 1460.4L2574.0 1462.9L2589.0 1466.2L2604.0 1460.4L2620.0 1457.3L2635.0 1454.2L2651.0 1459.1L2666.0 1462.9L2682.0 1448.9L2697.0 1443.3L2713.0 1440.7L2728.0 1406.2L2744.0 1385.6L2759.0 1358.2L2775.0 1344.0" stroke="#7e57c2" stroke-width="2" fill="none" stroke-linejoin="round"/>
</g>
<g clip-path="url(#cd)">
<path d="M78.0 1559.4H92.0V1601.7H78.0zM94.0 1526.3H107.0V1601.7H94.0zM109.0 1487.8H123.0V1601.7H109.0zM125.0 1487.8H138.0V1601.7H125.0zM140.0 1487.8H154.0V1601.7H140.0zM156.0 1487.8H169.0V1601.7H156.0zM820.0 1576.0H834.0V1601.7H820.0zM836.0 1572.0H849.0V1601.7H836.0zM851.0 1570.0H865.0V1601.7H851.0zM1052.0 1590.3H1066.0V1601.7H1052.0zM1068.0 1589.1H1081.0V1601.7H1068.0zM1099.0 1588.3H1112.0V1601.7H1099.0zM1176.0 1592.3H1189.0V1601.7H1176.0zM1191.0 1592.3H1205.0V1601.7H1191.0zM1207.0 1590.3H1220.0V1601.7H1207.0zM1222.0 1586.3H1236.0V1601.7H1222.0zM1238.0 1576.0H1251.0V1601.7H1238.0zM1516.0 1586.3H1529.0V1601.7H1516.0zM1531.0 1582.0H1545.0V1601.7H1531.0zM1547.0 1579.1H1560.0V1601.7H1547.0zM1562.0 1578.0H1576.0V1601.7H1562.0zM1578.0 1577.1H1591.0V1601.7H1578.0zM1717.0 1598.3H1730.0V1601.7H1717.0zM1732.0 1597.1H1746.0V1601.7H1732.0zM1810.0 1598.3H1823.0V1601.7H1810.0zM1825.0 1595.1H1839.0V1601.7H1825.0zM1841.0 1584.0H1854.0V1601.7H1841.0zM1902.0 1594.3H1916.0V1601.7H1902.0zM1964.0 1597.1H1978.0V1601.7H1964.0zM1980.0 1597.1H1993.0V1601.7H1980.0zM1995.0 1596.3H2009.0V1601.7H1995.0zM2011.0 1596.3H2024.0V1601.7H2011.0zM2026.0 1595.1H2040.0V1601.7H2026.0zM2042.0 1592.3H2055.0V1601.7H2042.0zM2057.0 1586.3H2070.0V1601.7H2057.0zM2598.0 1599.7H2611.0V1601.7H2598.0zM2613.0 1597.1H2627.0V1601.7H2613.0zM2629.0 1595.1H2642.0V1601.7H2629.0zM2644.0 1594.1H2658.0V1601.7H2644.0zM2660.0 1593.1H2673.0V1601.7H2660.0zM2675.0 1591.0H2689.0V1601.7H2675.0zM2691.0 1589.0H2704.0V1601.7H2691.0zM2706.0 1588.0H2720.0V1601.7H2706.0zM2722.0 1582.9H2735.0V1601.7H2722.0zM2737.0 1578.1H2751.0V1601.7H2737.0zM2753.0 1570.2H2766.0V1601.7H2753.0zM2768.0 1564.1H2782.0V1601.7H2768.0z" fill="#26a69a"/>
<path d="M20.0 1568.3H30.0V1601.7H20.0zM32.0 1569.1H45.0V1601.7H32.0zM47.0 1572.3H61.0V1601.7H47.0zM63.0 1573.1H76.0V1601.7H63.0zM171.0 1487.8H185.0V1601.7H171.0zM187.0 1487.8H200.0V1601.7H187.0zM202.0 1523.4H215.0V1601.7H202.0zM217.0 1590.3H231.0V1601.7H217.0zM867.0 1578.0H880.0V1601.7H867.0zM882.0 1582.9H896.0V1601.7H882.0zM898.0 1592.3H911.0V1601.7H898.0zM1083.0 1589.1H1097.0V1601.7H1083.0zM1114.0 1589.1H1127.0V1601.7H1114.0zM1129.0 1592.3H1143.0V1601.7H1129.0zM1145.0 1593.1H1158.0V1601.7H1145.0zM1160.0 1594.3H1174.0V1601.7H1160.0zM1253.0 1578.0H1267.0V1601.7H1253.0zM1269.0 1582.0H1282.0V1601.7H1269.0zM1284.0 1585.1H1298.0V1601.7H1284.0zM1300.0 1587.1H1313.0V1601.7H1300.0zM1315.0 1588.3H1328.0V1601.7H1315.0zM1330.0 1589.1H1344.0V1601.7H1330.0zM1346.0 1592.3H1359.0V1601.7H1346.0zM1361.0 1596.3H1375.0V1601.7H1361.0zM1377.0 1599.8H1390.0V1601.7H1377.0zM1593.0 1580.0H1607.0V1601.7H1593.0zM1609.0 1582.0H1622.0V1601.7H1609.0zM1624.0 1584.0H1638.0V1601.7H1624.0zM1640.0 1585.1H1653.0V1601.7H1640.0zM1655.0 1592.3H1669.0V1601.7H1655.0zM1671.0 1600.0H1684.0V1601.7H1671.0zM1686.0 1600.3H1699.0V1601.7H1686.0zM1748.0 1599.4H1761.0V1601.7H1748.0zM1856.0 1586.3H1869.0V1601.7H1856.0zM1871.0 1591.1H1885.0V1601.7H1871.0zM1887.0 1594.3H1900.0V1601.7H1887.0zM1918.0 1595.1H1931.0V1601.7H1918.0zM1933.0 1596.3H1947.0V1601.7H1933.0zM1949.0 1597.1H1962.0V1601.7H1949.0zM2072.0 1587.1H2086.0V1601.7H2072.0zM2088.0 1588.3H2101.0V1601.7H2088.0zM2103.0 1589.1H2117.0V1601.7H2103.0zM2119.0 1589.1H2132.0V1601.7H2119.0zM2134.0 1590.3H2148.0V1601.7H2134.0zM2150.0 1593.1H2163.0V1601.7H2150.0zM2165.0 1593.1H2179.0V1601.7H2165.0zM2181.0 1595.1H2194.0V1601.7H2181.0z" fill="#b2dfdb"/>
<path d="M233.0 1600.0H246.0V1621.8H233.0zM248.0 1600.0H262.0V1644.7H248.0zM264.0 1600.0H277.0V1652.7H264.0zM310.0 1600.0H324.0V1642.9H310.0zM326.0 1600.0H339.0V1644.7H326.0zM357.0 1600.0H370.0V1642.9H357.0zM372.0 1600.0H385.0V1647.8H372.0zM387.0 1600.0H401.0V1652.7H387.0zM403.0 1600.0H416.0V1658.7H403.0zM418.0 1600.0H432.0V1671.8H418.0zM434.0 1600.0H447.0V1677.8H434.0zM449.0 1600.0H463.0V1679.8H449.0zM635.0 1600.0H648.0V1613.8H635.0zM681.0 1600.0H695.0V1609.8H681.0zM697.0 1600.0H710.0V1616.9H697.0zM712.0 1600.0H726.0V1620.7H712.0zM728.0 1600.0H741.0V1622.9H728.0zM758.0 1600.0H772.0V1621.8H758.0zM774.0 1600.0H787.0V1623.8H774.0zM913.0 1600.0H927.0V1603.8H913.0zM929.0 1600.0H942.0V1606.9H929.0zM944.0 1600.0H957.0V1606.9H944.0zM959.0 1600.0H973.0V1611.8H959.0zM975.0 1600.0H988.0V1614.7H975.0zM1392.0 1600.0H1406.0V1611.8H1392.0zM1408.0 1600.0H1421.0V1621.8H1408.0zM1423.0 1600.0H1437.0V1624.9H1423.0zM1454.0 1600.0H1468.0V1625.8H1454.0zM1701.0 1600.0H1715.0V1601.6H1701.0zM1763.0 1600.0H1777.0V1603.8H1763.0zM2196.0 1600.0H2210.0V1612.9H2196.0zM2212.0 1600.0H2225.0V1625.8H2212.0zM2227.0 1600.0H2240.0V1630.9H2227.0zM2242.0 1600.0H2256.0V1635.7H2242.0zM2428.0 1600.0H2441.0V1602.7H2428.0zM2443.0 1600.0H2457.0V1604.8H2443.0zM2459.0 1600.0H2472.0V1606.8H2459.0zM2474.0 1600.0H2488.0V1613.7H2474.0zM2490.0 1600.0H2503.0V1616.7H2490.0z" fill="#ff5252"/>
<path d="M279.0 1600.0H293.0V1636.7H279.0zM295.0 1600.0H308.0V1630.7H295.0zM341.0 1600.0H355.0V1642.9H341.0zM465.0 1600.0H478.0V1675.8H465.0zM480.0 1600.0H494.0V1669.8H480.0zM496.0 1600.0H509.0V1662.0H496.0zM511.0 1600.0H525.0V1659.8H511.0zM527.0 1600.0H540.0V1653.8H527.0zM542.0 1600.0H556.0V1642.9H542.0zM558.0 1600.0H571.0V1634.9H558.0zM573.0 1600.0H586.0V1625.8H573.0zM588.0 1600.0H602.0V1616.9H588.0zM604.0 1600.0H617.0V1610.9H604.0zM619.0 1600.0H633.0V1609.8H619.0zM650.0 1600.0H664.0V1609.8H650.0zM666.0 1600.0H679.0V1607.8H666.0zM743.0 1600.0H756.0V1619.8H743.0zM789.0 1600.0H803.0V1614.7H789.0zM805.0 1600.0H818.0V1604.9H805.0zM990.0 1600.0H1004.0V1612.7H990.0zM1006.0 1600.0H1019.0V1612.7H1006.0zM1021.0 1600.0H1035.0V1609.8H1021.0zM1037.0 1600.0H1050.0V1603.8H1037.0zM1439.0 1600.0H1452.0V1623.8H1439.0zM1470.0 1600.0H1483.0V1623.8H1470.0zM1485.0 1600.0H1498.0V1617.8H1485.0zM1500.0 1600.0H1514.0V1607.8H1500.0zM1779.0 1600.0H1792.0V1603.4H1779.0zM1794.0 1600.0H1808.0V1603.4H1794.0zM2258.0 1600.0H2271.0V1634.7H2258.0zM2273.0 1600.0H2287.0V1633.7H2273.0zM2289.0 1600.0H2302.0V1629.7H2289.0zM2304.0 1600.0H2318.0V1625.8H2304.0zM2320.0 1600.0H2333.0V1622.5H2320.0zM2335.0 1600.0H2349.0V1617.0H2335.0zM2351.0 1600.0H2364.0V1613.9H2351.0zM2366.0 1600.0H2380.0V1610.9H2366.0zM2382.0 1600.0H2395.0V1607.8H2382.0zM2397.0 1600.0H2411.0V1604.8H2397.0zM2413.0 1600.0H2426.0V1601.7H2413.0zM2505.0 1600.0H2519.0V1614.7H2505.0zM2521.0 1600.0H2534.0V1608.8H2521.0zM2536.0 1600.0H2550.0V1605.8H2536.0zM2552.0 1600.0H2565.0V1604.8H2552.0zM2567.0 1600.0H2581.0V1602.7H2567.0zM2583.0 1600.0H2596.0V1602.7H2583.0z" fill="#ffcdd2"/>
<path d="M20 1600.7H3087" stroke="#787b86" stroke-opacity="0.7" stroke-width="2" stroke-dasharray="10 12" fill="none"/>
<path d="M87.8 1721.8L115.6 1632.2L120.0 1598.9L130.0 1514.0L133.3 1483.3" stroke="#2962ff" stroke-width="2" fill="none" stroke-linejoin="round"/>
<path d="M306.7 1505.6L310.0 1514.0L315.6 1523.3L333.3 1536.7L362.9 1555.6L378.4 1574.4L393.8 1590.0L409.3 1607.8L424.9 1643.3L440.2 1665.6L455.8 1686.7L471.1 1701.1L486.7 1712.2L505.6 1721.8L517.8 1727.8" stroke="#2962ff" stroke-width="2" fill="none" stroke-linejoin="round"/>
<path d="M826.7 1728.9L836.7 1721.8L857.8 1708.2L887.8 1711.1L904.4 1717.8L910.0 1721.8L917.8 1727.8" stroke="#2962ff" stroke-width="2" fill="none" stroke-linejoin="round"/>
<path d="M1080.0 1724.0L1090.0 1721.8L1104.9 1718.4L1120.4 1716.0L1136.0 1716.9L1166.7 1715.6L1182.2 1711.3L1197.8 1708.4L1213.3 1704.7L1228.9 1696.7L1244.2 1680.0L1259.8 1676.7L1275.1 1675.6L1306.0 1673.8L1321.6 1671.1L1337.1 1668.7L1352.4 1670.0L1368.0 1673.3L1383.3 1676.7L1398.9 1691.1L1414.2 1705.1L1429.8 1712.7L1445.3 1717.8L1453.3 1721.8L1462.2 1726.7" stroke="#2962ff" stroke-width="2" fill="none" stroke-linejoin="round"/>
<path d="M1497.8 1726.7L1502.2 1721.8L1507.1 1718.9L1522.4 1694.4L1538.0 1685.6L1553.6 1677.1L1568.9 1670.0L1584.4 1662.9L1599.8 1661.8L1615.3 1658.4L1630.9 1656.0L1646.2 1654.4L1661.8 1658.4L1677.1 1665.8L1692.7 1666.2L1708.2 1667.1L1723.6 1663.3L1739.1 1661.8L1754.4 1663.3L1770.0 1667.8L1785.3 1668.2L1800.9 1668.2L1816.4 1662.2L1831.8 1657.8L1847.3 1643.3L1862.7 1640.7L1878.2 1643.8L1893.6 1644.7L1909.1 1642.7L1924.7 1643.1L1940.0 1642.9L1955.6 1643.1L1970.9 1641.1L1986.4 1639.6L2001.8 1638.0L2017.3 1636.7L2032.9 1634.4L2048.2 1628.9L2063.8 1619.3L2079.1 1617.1L2094.7 1614.4L2110.2 1612.2L2125.6 1610.0L2141.1 1608.0L2156.4 1608.4L2171.9 1606.8L2187.4 1607.0L2202.9 1626.8L2218.4 1645.9L2233.9 1658.1L2249.4 1671.8L2264.9 1679.7L2280.1 1685.2L2295.6 1688.5L2311.1 1691.1L2326.6 1692.6L2342.1 1691.3L2357.6 1690.8L2373.1 1689.6L2388.6 1688.5L2403.8 1686.8L2419.3 1684.2L2434.8 1685.2L2450.3 1686.8L2465.8 1690.8L2481.3 1702.0L2496.8 1707.6L2512.3 1709.4L2527.7 1705.0L2543.0 1702.8L2558.5 1702.3L2574.0 1701.5L2589.5 1701.0L2605.0 1698.2L2620.4 1694.6L2635.9 1690.8L2651.4 1688.0L2666.7 1686.0L2682.2 1681.4L2697.7 1676.9L2713.1 1671.3L2728.6 1662.4L2744.1 1652.2L2759.6 1638.3L2775.1 1620.5" stroke="#2962ff" stroke-width="2" fill="none" stroke-linejoin="round"/>
<path d="M115.6 1732.2L119.3 1721.8L133.3 1685.6L142.2 1638.9L151.1 1598.9L160.0 1554.4L171.1 1514.0L175.6 1496.7" stroke="#f23645" stroke-width="2" fill="none" stroke-linejoin="round"/>
<path d="M355.6 1507.8L363.3 1514.0L378.4 1523.3L393.8 1534.4L409.3 1548.9L424.9 1570.0L440.2 1590.0L455.8 1610.0L471.1 1627.8L486.7 1644.4L502.2 1658.9L517.6 1672.2L533.1 1684.4L551.1 1697.8L562.2 1703.3L578.9 1709.6L595.6 1714.4L612.2 1717.3L628.9 1719.3L643.3 1721.8L664.4 1724.4" stroke="#f23645" stroke-width="2" fill="none" stroke-linejoin="round"/>
<path d="M1146.7 1724.4L1164.4 1721.8L1182.2 1720.0L1197.8 1717.8L1213.3 1715.6L1228.9 1711.6L1244.2 1706.0L1259.8 1700.0L1275.1 1694.9L1290.7 1690.4L1306.0 1687.1L1321.6 1684.0L1337.1 1680.9L1352.4 1679.1L1368.0 1678.0L1383.3 1678.0L1398.9 1680.7L1414.2 1685.6L1429.8 1691.1L1445.3 1696.7L1460.7 1703.3L1476.2 1708.4L1491.6 1711.8L1507.1 1713.6L1522.4 1710.0L1538.0 1705.1L1553.6 1700.0L1568.9 1693.8L1584.4 1687.8L1599.8 1682.7L1615.3 1677.3L1630.9 1672.7L1646.2 1669.6L1661.8 1667.8L1677.1 1667.1L1708.2 1667.1L1723.6 1666.2L1754.4 1665.1L1770.0 1665.6L1800.9 1666.4L1816.4 1665.6L1831.8 1664.0L1847.3 1660.2L1862.7 1656.0L1878.2 1653.3L1909.1 1650.0L1940.0 1647.8L1970.9 1645.6L2001.8 1643.3L2032.9 1640.4L2048.2 1637.8L2063.8 1634.4L2079.1 1630.7L2110.2 1624.4L2141.1 1618.9L2171.9 1614.6L2187.4 1613.4L2202.9 1615.9L2218.4 1621.7L2233.9 1628.6L2249.4 1637.0L2264.9 1645.1L2280.1 1652.7L2295.6 1659.8L2311.1 1666.7L2326.6 1672.0L2342.1 1676.3L2357.6 1679.1L2373.1 1681.4L2388.6 1682.7L2403.8 1683.5L2419.3 1683.7L2434.8 1684.0L2450.3 1684.5L2465.8 1685.7L2481.3 1689.0L2496.8 1692.9L2512.3 1695.9L2527.7 1697.9L2543.0 1699.0L2558.5 1699.5L2574.0 1700.0L2589.5 1700.0L2605.0 1699.5L2620.4 1698.4L2635.9 1697.2L2651.4 1695.4L2666.7 1693.9L2682.2 1691.6L2697.7 1689.0L2713.1 1685.7L2728.6 1681.4L2744.1 1675.6L2759.6 1668.0L2775.1 1657.8" stroke="#f23645" stroke-width="2" fill="none" stroke-linejoin="round"/>
</g>
<rect x="20" y="54" width="3210" height="1723.8" fill="none" stroke="#f0f0f1" stroke-width="2"/>
<path d="M3087 54V1777.8M20 1722.5H3230" stroke="#f8f8f9" stroke-width="2" fill="none"/>
<path d="M20 1305H3230M20 1514H3230" stroke="#e0e3eb" stroke-width="2.4" fill="none"/>
<text x="20.6" y="39.9" font-size="24.5" fill="#131722" textLength="877.5" lengthAdjust="spacingAndGlyphs" stroke="#131722" stroke-width="0.35" xml:space="preserve">CryptoFXStreet created with TradingView.com, Oct 29, 2025 14:33 UTC+5:30</text>
<text x="37.1" y="93.6" font-size="24.5" fill="#131722" textLength="200.2" lengthAdjust="spacingAndGlyphs" stroke="#131722" stroke-width="0.35" xml:space="preserve">Pi Network/Tether</text>
<text x="248.7" y="93.6" font-size="24.5" fill="#131722" text-anchor="middle" stroke="#131722" stroke-width="0.35" xml:space="preserve">·</text>
<text x="260.6" y="93.6" font-size="24.5" fill="#131722" textLength="25.8" lengthAdjust="spacingAndGlyphs" stroke="#131722" stroke-width="0.35" xml:space="preserve">1D</text>
<text x="297.8" y="93.6" font-size="24.5" fill="#131722" text-anchor="middle" stroke="#131722" stroke-width="0.35" xml:space="preserve">·</text>
<text x="309.5" y="93.6" font-size="24.5" fill="#131722" textLength="48.6" lengthAdjust="spacingAndGlyphs" stroke="#131722" stroke-width="0.35" xml:space="preserve">OKX</text>
<text x="373.3" y="93.6" font-size="24.5" fill="#131722" textLength="95.9" lengthAdjust="spacingAndGlyphs" stroke="#131722" stroke-width="0.35" xml:space="preserve">O0.2532</text>
<text x="486.4" y="93.6" font-size="24.5" fill="#131722" textLength="88.3" lengthAdjust="spacingAndGlyphs" stroke="#131722" stroke-width="0.35" xml:space="preserve">H0.2717</text>
<text x="591.4" y="93.6" font-size="24.5" fill="#131722" textLength="91.7" lengthAdjust="spacingAndGlyphs" stroke="#131722" stroke-width="0.35" xml:space="preserve">L0.2499</text>
<text x="698.3" y="93.6" font-size="24.5" fill="#131722" textLength="93.9" lengthAdjust="spacingAndGlyphs" stroke="#131722" stroke-width="0.35" xml:space="preserve">C0.2657</text>
<text x="808.9" y="93.6" font-size="24.5" fill="#131722" textLength="201.1" lengthAdjust="spacingAndGlyphs" stroke="#131722" stroke-width="0.35" xml:space="preserve">+0.0124 (+4.90%)</text>
<text x="37.1" y="127.6" font-size="24.5" fill="#131722" textLength="48.5" lengthAdjust="spacingAndGlyphs" stroke="#131722" stroke-width="0.35" xml:space="preserve">EMA</text>
<text x="96.0" y="127.6" font-size="24.5" fill="#131722" textLength="164.4" lengthAdjust="spacingAndGlyphs" stroke="#131722" stroke-width="0.35" xml:space="preserve">20/50/100/200</text>
<text x="276.5" y="127.6" font-size="24.5" fill="#ff8000" textLength="74.3" lengthAdjust="spacingAndGlyphs" stroke="#ff8000" stroke-width="0.35" xml:space="preserve">0.2618</text>
<text x="366.9" y="127.6" font-size="24.5" fill="#0000ff" textLength="77.2" lengthAdjust="spacingAndGlyphs" stroke="#0000ff" stroke-width="0.35" xml:space="preserve">0.5352</text>
<text x="36.7" y="1345.6" font-size="24.5" fill="#131722" textLength="35.5" lengthAdjust="spacingAndGlyphs" stroke="#131722" stroke-width="0.35" xml:space="preserve">RSI</text>
<text x="82.7" y="1345.6" font-size="24.5" fill="#131722" textLength="113.3" lengthAdjust="spacingAndGlyphs" stroke="#131722" stroke-width="0.35" xml:space="preserve">(14, close)</text>
<text x="212.7" y="1345.6" font-size="24.5" fill="#7e57c2" textLength="63.5" lengthAdjust="spacingAndGlyphs" stroke="#7e57c2" stroke-width="0.35" xml:space="preserve">65.06</text>
<text x="292.2" y="1345.6" font-size="24.5" fill="#fdd835" textLength="60.0" lengthAdjust="spacingAndGlyphs" stroke="#fdd835" stroke-width="0.35" xml:space="preserve">37.59</text>
<text x="36.7" y="1555.1" font-size="24.5" fill="#131722" textLength="67.7" lengthAdjust="spacingAndGlyphs" stroke="#131722" stroke-width="0.35" xml:space="preserve">MACD</text>
<text x="116.7" y="1555.1" font-size="24.5" fill="#131722" textLength="154.9" lengthAdjust="spacingAndGlyphs" stroke="#131722" stroke-width="0.35" xml:space="preserve">(12, 26, close)</text>
<text x="288.4" y="1555.1" font-size="24.5" fill="#26a69a" textLength="74.5" lengthAdjust="spacingAndGlyphs" stroke="#26a69a" stroke-width="0.35" xml:space="preserve">0.0102</text>
<text x="378.4" y="1555.1" font-size="24.5" fill="#2962ff" textLength="93.2" lengthAdjust="spacingAndGlyphs" stroke="#2962ff" stroke-width="0.35" xml:space="preserve">−0.0055</text>
<text x="486.7" y="1555.1" font-size="24.5" fill="#f23645" textLength="88.2" lengthAdjust="spacingAndGlyphs" stroke="#f23645" stroke-width="0.35" xml:space="preserve">−0.0157</text>
<text x="456.0" y="1760.0" font-size="23.5" fill="#131722" text-anchor="middle" font-weight="bold" xml:space="preserve">Jun</text>
<text x="920.0" y="1760.0" font-size="23.5" fill="#131722" text-anchor="middle" font-weight="bold" xml:space="preserve">Jul</text>
<text x="1399.0" y="1760.0" font-size="23.5" fill="#131722" text-anchor="middle" font-weight="bold" xml:space="preserve">Aug</text>
<text x="1878.0" y="1760.0" font-size="23.5" fill="#131722" text-anchor="middle" font-weight="bold" xml:space="preserve">Sep</text>
<text x="2342.0" y="1760.0" font-size="23.5" fill="#131722" text-anchor="middle" font-weight="bold" xml:space="preserve">Oct</text>
<text x="2821.0" y="1760.0" font-size="23.5" fill="#131722" text-anchor="middle" font-weight="bold" xml:space="preserve">Nov</text>
<g clip-path="url(#ca1)">
<text x="3105.4" y="176.7" font-size="24" fill="#131722" textLength="80.4" lengthAdjust="spacingAndGlyphs" stroke="#131722" stroke-width="0.35" xml:space="preserve">1.1000</text>
<text x="3105.4" y="267.2" font-size="24" fill="#131722" textLength="80.4" lengthAdjust="spacingAndGlyphs" stroke="#131722" stroke-width="0.35" xml:space="preserve">0.9500</text>
<text x="3105.4" y="335.9" font-size="24" fill="#131722" textLength="80.4" lengthAdjust="spacingAndGlyphs" stroke="#131722" stroke-width="0.35" xml:space="preserve">0.8500</text>
<text x="3105.4" y="413.2" font-size="24" fill="#131722" textLength="80.4" lengthAdjust="spacingAndGlyphs" stroke="#131722" stroke-width="0.35" xml:space="preserve">0.7500</text>
<text x="3105.4" y="501.6" font-size="24" fill="#131722" textLength="80.4" lengthAdjust="spacingAndGlyphs" stroke="#131722" stroke-width="0.35" xml:space="preserve">0.6500</text>
<text x="3105.4" y="604.7" font-size="24" fill="#131722" textLength="80.4" lengthAdjust="spacingAndGlyphs" stroke="#131722" stroke-width="0.35" xml:space="preserve">0.5500</text>
<text x="3105.4" y="676.0" font-size="24" fill="#131722" textLength="80.4" lengthAdjust="spacingAndGlyphs" stroke="#131722" stroke-width="0.35" xml:space="preserve">0.4900</text>
<text x="3105.4" y="756.7" font-size="24" fill="#131722" textLength="80.4" lengthAdjust="spacingAndGlyphs" stroke="#131722" stroke-width="0.35" xml:space="preserve">0.4300</text>
<text x="3105.4" y="817.0" font-size="24" fill="#131722" textLength="80.4" lengthAdjust="spacingAndGlyphs" stroke="#131722" stroke-width="0.35" xml:space="preserve">0.3900</text>
<text x="3105.4" y="883.8" font-size="24" fill="#131722" textLength="80.4" lengthAdjust="spacingAndGlyphs" stroke="#131722" stroke-width="0.35" xml:space="preserve">0.3500</text>
<text x="3105.4" y="958.8" font-size="24" fill="#131722" textLength="80.4" lengthAdjust="spacingAndGlyphs" stroke="#131722" stroke-width="0.35" xml:space="preserve">0.3100</text>
<text x="3105.4" y="1021.6" font-size="24" fill="#131722" textLength="80.4" lengthAdjust="spacingAndGlyphs" stroke="#131722" stroke-width="0.35" xml:space="preserve">0.2800</text>
</g>
<g clip-path="url(#ca2)">
<text x="3104.7" y="1368.0" font-size="24" fill="#131722" textLength="66.0" lengthAdjust="spacingAndGlyphs" stroke="#131722" stroke-width="0.35" xml:space="preserve">60.00</text>
<text x="3104.7" y="1497.0" font-size="24" fill="#131722" textLength="66.0" lengthAdjust="spacingAndGlyphs" stroke="#131722" stroke-width="0.35" xml:space="preserve">20.00</text>
</g>
<g clip-path="url(#ca3)">
<text x="3104.7" y="1536.2" font-size="24" fill="#131722" textLength="80.7" lengthAdjust="spacingAndGlyphs" stroke="#131722" stroke-width="0.35" xml:space="preserve">0.0200</text>
<text x="3104.7" y="1608.4" font-size="24" fill="#131722" textLength="80.7" lengthAdjust="spacingAndGlyphs" stroke="#131722" stroke-width="0.35" xml:space="preserve">0.0000</text>
<text x="3104.7" y="1682.3" font-size="24" fill="#131722" textLength="96.5" lengthAdjust="spacingAndGlyphs" stroke="#131722" stroke-width="0.35" xml:space="preserve">−0.0200</text>
</g>
<path d="M3088 298.0H3193.6Q3197.6 298.0 3197.6 302.0V328.0Q3197.6 332.0 3193.6 332.0H3088z" fill="#673ab7"/><text x="3105.4" y="322.7" font-size="24" fill="#fff" textLength="80.6" lengthAdjust="spacingAndGlyphs" xml:space="preserve">0.8686</text>
<path d="M3088 467.3H3193.6Q3197.6 467.3 3197.6 471.3V497.3Q3197.6 501.3 3193.6 501.3H3088z" fill="#673ab7"/><text x="3105.4" y="492.0" font-size="24" fill="#fff" textLength="80.6" lengthAdjust="spacingAndGlyphs" xml:space="preserve">0.6600</text>
<path d="M3088 597.0H3193.6Q3197.6 597.0 3197.6 601.0V627.0Q3197.6 631.0 3193.6 631.0H3088z" fill="#0000ff"/><text x="3105.4" y="621.7" font-size="24" fill="#fff" textLength="80.6" lengthAdjust="spacingAndGlyphs" xml:space="preserve">0.5352</text>
<path d="M3088 635.0H3193.6Q3197.6 635.0 3197.6 639.0V665.0Q3197.6 669.0 3193.6 669.0H3088z" fill="#673ab7"/><text x="3105.4" y="659.7" font-size="24" fill="#fff" textLength="80.6" lengthAdjust="spacingAndGlyphs" xml:space="preserve">0.5032</text>
<path d="M3088 778.2H3193.6Q3197.6 778.2 3197.6 782.2V808.2Q3197.6 812.2 3193.6 812.2H3088z" fill="#000"/><text x="3105.4" y="802.9" font-size="24" fill="#fff" textLength="80.6" lengthAdjust="spacingAndGlyphs" xml:space="preserve">0.3987</text>
<path d="M3088 909.8H3193.6Q3197.6 909.8 3197.6 913.8V939.8Q3197.6 943.8 3193.6 943.8H3088z" fill="#000"/><text x="3105.4" y="934.5" font-size="24" fill="#fff" textLength="80.6" lengthAdjust="spacingAndGlyphs" xml:space="preserve">0.3220</text>
<path d="M3088 1029H3216Q3220 1029 3220 1033V1086.8Q3220 1090.8 3216 1090.8H3088z" fill="#d1d4dc"/>
<text x="3105.4" y="1054.0" font-size="24" fill="#131722" textLength="80.4" lengthAdjust="spacingAndGlyphs" stroke="#131722" stroke-width="0.35" xml:space="preserve">0.2657</text>
<text x="3105.4" y="1082.0" font-size="24" fill="#434651" textLength="102.5" lengthAdjust="spacingAndGlyphs" stroke="#434651" stroke-width="0.35" xml:space="preserve">14:56:38</text>
<path d="M3088 1091.0H3193.6Q3197.6 1091.0 3197.6 1095.0V1121.0Q3197.6 1125.0 3193.6 1125.0H3088z" fill="#000"/><text x="3105.4" y="1115.7" font-size="24" fill="#fff" textLength="80.6" lengthAdjust="spacingAndGlyphs" xml:space="preserve">0.2643</text>
<path d="M3088 1125.1H3193.6Q3197.6 1125.1 3197.6 1129.1V1155.1Q3197.6 1159.1 3193.6 1159.1H3088z" fill="#ff8000"/><text x="3105.4" y="1149.8" font-size="24" fill="#fff" textLength="80.6" lengthAdjust="spacingAndGlyphs" xml:space="preserve">0.2618</text>
<path d="M3088 1159.2H3193.6Q3197.6 1159.2 3197.6 1163.2V1189.2Q3197.6 1193.2 3193.6 1193.2H3088z" fill="#000"/><text x="3105.4" y="1183.9" font-size="24" fill="#fff" textLength="80.6" lengthAdjust="spacingAndGlyphs" xml:space="preserve">0.2295</text>
<path d="M3088 1206.0H3193.6Q3197.6 1206.0 3197.6 1210.0V1236.0Q3197.6 1240.0 3193.6 1240.0H3088z" fill="#000"/><text x="3105.4" y="1230.7" font-size="24" fill="#fff" textLength="80.6" lengthAdjust="spacingAndGlyphs" xml:space="preserve">0.1996</text>
<path d="M3088 1240.2H3193.6Q3197.6 1240.2 3197.6 1244.2V1270.2Q3197.6 1274.2 3193.6 1274.2H3088z" fill="#000"/><text x="3105.4" y="1264.9" font-size="24" fill="#fff" textLength="80.6" lengthAdjust="spacingAndGlyphs" xml:space="preserve">0.1919</text>
<g clip-path="url(#ca1)"><path d="M3088 1274.4H3193.6Q3197.6 1274.4 3197.6 1278.4V1304.4Q3197.6 1308.4 3193.6 1308.4H3088z" fill="#e040fb"/><text x="3105.4" y="1299.1" font-size="24" fill="#fff" textLength="80.6" lengthAdjust="spacingAndGlyphs" xml:space="preserve">0.1842</text></g>
<path d="M3088 1327.0H3177.6Q3181.6 1327.0 3181.6 1331.0V1357.0Q3181.6 1361.0 3177.6 1361.0H3088z" fill="#7e57c2"/><text x="3104.7" y="1351.7" font-size="24" fill="#fff" textLength="66.0" lengthAdjust="spacingAndGlyphs" xml:space="preserve">65.06</text>
<path d="M3088 1415.0H3177.6Q3181.6 1415.0 3181.6 1419.0V1445.0Q3181.6 1449.0 3177.6 1449.0H3088z" fill="#fdd835"/><text x="3104.7" y="1439.7" font-size="24" fill="#131722" textLength="66.0" lengthAdjust="spacingAndGlyphs" stroke="#131722" stroke-width="0.35" xml:space="preserve">37.59</text>
<path d="M3088 1546.8H3193.5Q3197.5 1546.8 3197.5 1550.8V1576.8Q3197.5 1580.8 3193.5 1580.8H3088z" fill="#26a69a"/><text x="3104.7" y="1571.5" font-size="24" fill="#fff" textLength="80.7" lengthAdjust="spacingAndGlyphs" xml:space="preserve">0.0102</text>
<path d="M3088 1603.8H3207.8Q3211.8 1603.8 3211.8 1607.8V1633.8Q3211.8 1637.8 3207.8 1637.8H3088z" fill="#2962ff"/><text x="3104.7" y="1628.5" font-size="24" fill="#fff" textLength="96.5" lengthAdjust="spacingAndGlyphs" xml:space="preserve">−0.0055</text>
<path d="M3088 1640.8H3207.8Q3211.8 1640.8 3211.8 1644.8V1670.8Q3211.8 1674.8 3207.8 1674.8H3088z" fill="#f23645"/><text x="3104.7" y="1665.5" font-size="24" fill="#fff" textLength="96.5" lengthAdjust="spacingAndGlyphs" xml:space="preserve">−0.0157</text>
<rect x="3094" y="62" width="128.2" height="52.2" rx="8" fill="#fff" stroke="#ededee" stroke-width="1.6"/>
<text x="3113.0" y="95.8" font-size="24.5" fill="#131722" textLength="63.0" lengthAdjust="spacingAndGlyphs" stroke="#131722" stroke-width="0.35" xml:space="preserve">USDT</text>
<g fill="#131313">
<path d="M23.8 1822H48.6V1851.7H36.2V1836.8H23.8z"/>
<circle cx="57.8" cy="1828.2" r="6.2"/>
<path d="M70.2 1822H83.8L71.4 1851.7H57.8z"/>
</g>
<text x="98.0" y="1851.7" font-size="41" fill="#131313" textLength="241.0" lengthAdjust="spacingAndGlyphs" font-weight="bold" xml:space="preserve">TradingView</text>
</svg></body></html>
